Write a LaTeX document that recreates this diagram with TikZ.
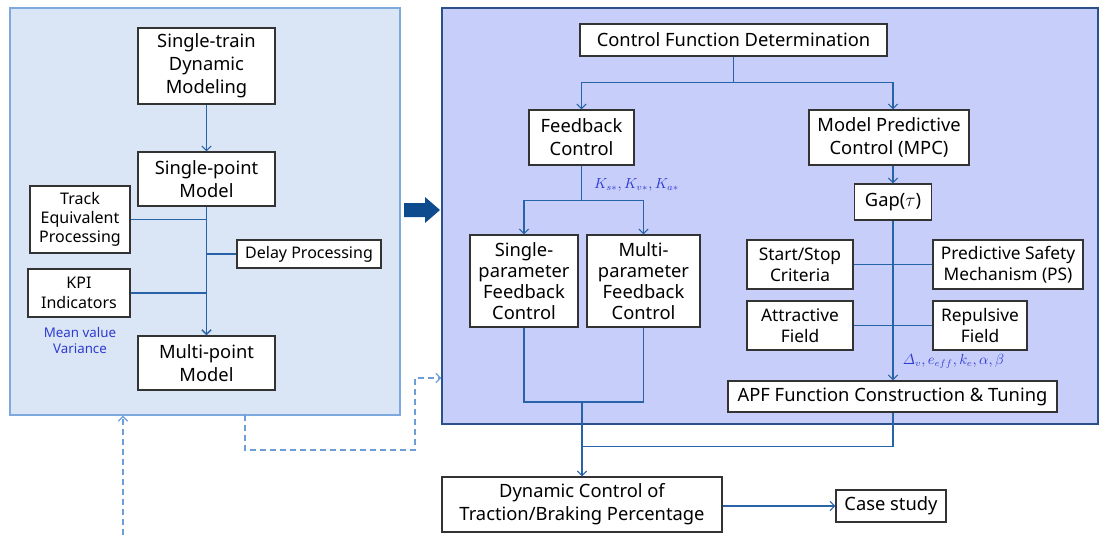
\documentclass[tikz,border=0pt]{standalone}
\usepackage{amsmath}
\usepackage{fontspec}
\setmainfont{Noto Sans}
\usetikzlibrary{arrows.meta, positioning}
\definecolor{leftfill}{HTML}{DAE6F5}
\definecolor{leftedge}{HTML}{7EA9DE}
\definecolor{rightfill}{HTML}{C8CEFA}
\definecolor{rightedge}{HTML}{2A5189}
\definecolor{linkblue}{HTML}{2862A8}
\definecolor{paramblue}{HTML}{2F3BD0}
\definecolor{dashblue}{HTML}{6C9FDA}
\definecolor{fatblue}{HTML}{0D4A8E}
\definecolor{boxedge}{HTML}{333333}

\begin{document}
\begin{tikzpicture}[
    x=0.75pt, y=-0.75pt,
    box/.style={draw=boxedge, fill=white, line width=0.8pt, align=center, inner sep=1pt,
      font=\fontsize{13.75}{17.25}\selectfont},
    smallbox/.style={box, font=\fontsize{12}{14.5}\selectfont},
    panel/.style={line width=0.8pt, inner sep=0},
    link/.style={draw=linkblue, line width=0.8pt},
    arr/.style={link, -{Straight Barb[length=3.5pt, width=7pt]}},
    dashlink/.style={draw=dashblue, line width=1pt, dash pattern=on 4.5pt off 3pt,
      -{Straight Barb[length=3.5pt, width=7pt]}},
    param/.style={text=paramblue, font=\fontsize{10.5}{12}\selectfont, inner sep=1pt}
]
  \useasboundingbox (0,0) rectangle (1099,535);

  % Panels
  \node[panel, draw=leftedge, fill=leftfill, minimum width=292.5pt, minimum height=305.25pt]
    (leftpanel) at (205,211.5) {};
  \node[panel, draw=rightedge, fill=rightfill, minimum width=492pt, minimum height=312pt]
    (rightpanel) at (770,216) {};
  \fill[fatblue] (404,203) -- (425,203) -- (425,197) -- (440,210) -- (425,223)
    -- (425,217) -- (404,217) -- cycle;

  % Modeling panel
  \node[box, minimum width=102.75pt, minimum height=57pt] (train) at (206.5,66)
    {Single-train\\Dynamic\\Modeling};
  \node[box, minimum width=102.75pt, minimum height=40.5pt] (single) at (206.5,179)
    {Single-point\\Model};
  \node[smallbox, minimum width=75pt, minimum height=50.25pt] (track) at (80,219.5)
    {Track\\Equivalent\\Processing};
  \node[smallbox, minimum width=108pt, minimum height=21pt] (delay) at (309,254)
    {Delay Processing};
  \node[smallbox, minimum width=76.5pt, minimum height=36pt] (kpi) at (79,293)
    {KPI\\Indicators};
  \node[text=paramblue, align=center, font=\fontsize{10}{12.5}\selectfont] (stats) at (80,340.5)
    {Mean value\\Variance};
  \node[box, minimum width=102.75pt, minimum height=40.5pt] (multi) at (206.5,363)
    {Multi-point\\Model};

  \draw[arr] (train) -- (single);
  \draw[arr, line width=1.1pt] (single) -- (multi);
  \draw[link] (track.east) -- (track.east -| single.south);
  \draw[link] (delay.west) -- (delay.west -| single.south);
  \draw[link] (kpi.east) -- (kpi.east -| single.south);

  % Control panel
  \node[box, minimum width=230.25pt, minimum height=24pt] (cfd) at (733.5,40)
    {Control Function Determination};
  \node[box, minimum width=78.75pt, minimum height=41.25pt] (fb) at (581.5,137.5)
    {Feedback\\Control};
  \node[box, minimum width=120pt, minimum height=41.25pt] (mpc) at (889,137.5)
    {Model Predictive\\Control (MPC)};
  \node[box, minimum width=81pt, minimum height=69pt, font=\fontsize{13.75}{15.75}\selectfont]
    (sfb) at (524,281) {Single-\\parameter\\Feedback\\Control};
  \node[box, minimum width=84.75pt, minimum height=69pt, font=\fontsize{13.75}{15.75}\selectfont]
    (mfb) at (643.5,281) {Multi-\\parameter\\Feedback\\Control};
  \node[box, minimum width=57.75pt, minimum height=27pt] (gap) at (893,202)
    {Gap($\tau$)};
  \node[box, minimum width=79.5pt, minimum height=36.75pt, font=\fontsize{13}{16}\selectfont]
    (ststop) at (800,264.5) {Start/Stop\\Criteria};
  \node[box, minimum width=112.5pt, minimum height=36.75pt, font=\fontsize{13}{16}\selectfont]
    (pss) at (1008,264.5) {Predictive Safety\\Mechanism (PS)};
  \node[box, minimum width=79.5pt, minimum height=36.75pt, font=\fontsize{13}{16}\selectfont]
    (attr) at (800,325.5) {Attractive\\Field};
  \node[box, minimum width=70.5pt, minimum height=36.75pt, font=\fontsize{13}{16}\selectfont]
    (rep) at (980,325.5) {Repulsive\\Field};
  \node[box, minimum width=246.75pt, minimum height=23.25pt] (apf) at (892.5,396.5)
    {APF Function Construction \& Tuning};

  \draw[arr] (cfd.south) -- ++(0,26) -| (fb.north);
  \draw[arr] (cfd.south) -- ++(0,26) -| (gap |- mpc.north);
  \draw[arr] (fb.south) -- node[param, right, pos=0.55, xshift=8pt] {$K_{s*}, K_{v*}, K_{a*}$} ++(0,35) -| (sfb.north);
  \draw[arr] (fb.south) -- ++(0,35) -| (mfb.north);
  \draw[arr] (gap |- mpc.south) -- (gap.north);
  \draw[link] (ststop.east) -- (pss.west);
  \draw[link] (attr.east) -- (rep.west);
  \draw[arr] (gap.south) -- node[param, right, pos=0.88, xshift=6pt]
    {$\varDelta_v{,}\,e_{eff}{,}\,k_e{,}\,\alpha{,}\,\beta$} (gap |- apf.north);

  % Output
  \node[box, minimum width=210pt, minimum height=41.25pt] (dyn) at (582,504.5)
    {Dynamic Control of\\Traction/Braking Percentage};
  \node[box, minimum width=82.5pt, minimum height=24pt] (case) at (891,506)
    {Case study};
  \coordinate (fbjoin) at (582,402);
  \draw[link] (sfb.south) |- (fbjoin) -| (mfb.south);
  \draw[link] (gap |- apf.south) -- ++(0,34) -| (fbjoin);
  \draw[arr] (fbjoin) -- (dyn.north);
  \draw[arr] (case.west -| dyn.east) -- (case.west);

  % Feedback loops
  \coordinate (loopin) at (123,535);
  \draw[dashlink] (loopin) -- (loopin |- leftpanel.south);
  \coordinate (tap) at (245,415);
  \draw[dashlink] (tap) -- ++(0,35) -| (415,378) -- (rightpanel.west |- 415,378);
\end{tikzpicture}
\end{document}
